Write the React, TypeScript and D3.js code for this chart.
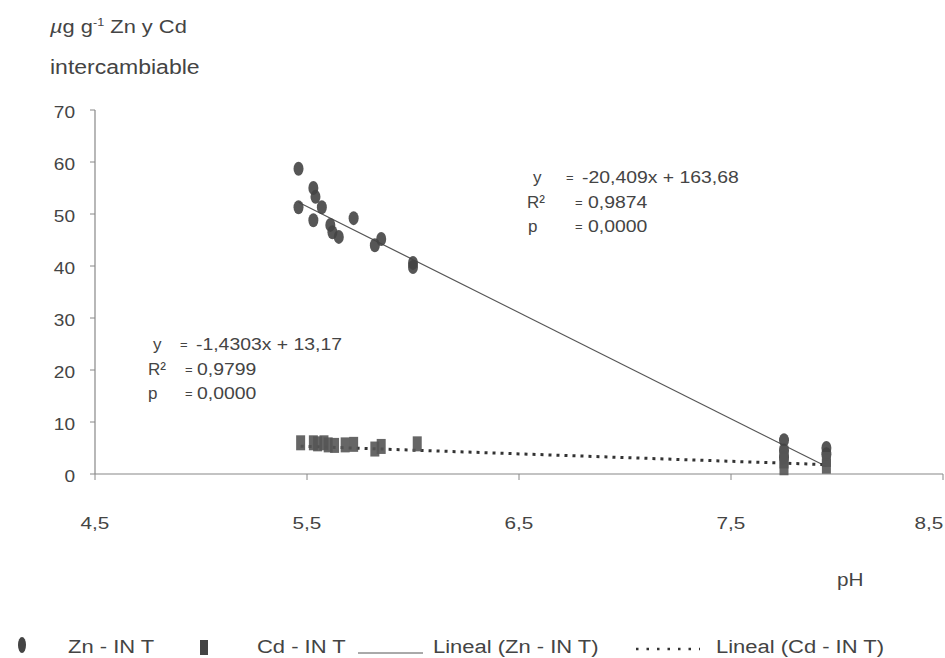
import React, { useEffect, useRef } from "react";
import * as d3 from "d3";

// pH vs exchangeable Zn / Cd
const znPH = [5.46, 5.46, 5.53, 5.54, 5.57, 5.53, 5.61, 5.62, 5.65, 5.72, 5.82, 5.85, 6.0, 6.0, 7.75, 7.75, 7.75, 7.95, 7.95];
const znVal = [58.7, 51.3, 55, 53.3, 51.3, 48.8, 47.9, 46.5, 45.6, 49.2, 44, 45.2, 40.6, 39.8, 6.5, 4.5, 3.2, 5, 3.8];
const cdPH = [5.47, 5.53, 5.55, 5.58, 5.6, 5.63, 5.68, 5.72, 5.82, 5.85, 6.02, 7.75, 7.75, 7.75, 7.95, 7.95];
const cdVal = [6, 6, 5.8, 6, 5.6, 5.5, 5.6, 5.7, 4.8, 5.3, 5.8, 4, 2.5, 1.2, 2.8, 1.5];

const xTicks = [4.5, 5.5, 6.5, 7.5, 8.5];
const yTicks = [0, 10, 20, 30, 40, 50, 60, 70];

const znFit = { slope: -20.409, icpt: 163.68, label: ["-20,409x + 163,68", "0,9874", "0,0000"] };
const cdFit = { slope: -1.4303, icpt: 13.17, label: ["-1,4303x + 13,17", "0,9799", "0,0000"] };

const legendItems = ["Zn - IN T", "Cd - IN T", "Lineal (Zn - IN T)", "Lineal (Cd - IN T)"];

const W = 945, H = 658;
const ink = "#444";
const txt = "#444";

// scanned text looks horizontally stretched
function stretch(sel: d3.Selection<any, any, any, any>, k: number) {
  sel.each(function () {
    const el = this as SVGTextElement;
    const w = el.getComputedTextLength();
    d3.select(el).attr("textLength", w * k).attr("lengthAdjust", "spacingAndGlyphs");
  });
}

export default function App() {
  const ref = useRef<SVGSVGElement>(null);

  useEffect(() => {
    const svg = d3.select(ref.current);
    svg.selectAll("*").remove();
    svg.style("font-family", "'Liberation Sans', Arial, sans-serif");

    const x = d3.scaleLinear().domain([4.5, 8.5]).range([95, 943]);
    const y = d3.scaleLinear().domain([0, 70]).range([474, 110]);

    // axes
    svg.append("line").attr("x1", x(4.5)).attr("x2", x(8.5)).attr("y1", y(0)).attr("y2", y(0))
      .attr("stroke", "#888").attr("stroke-width", 1.2);
    svg.append("line").attr("x1", x(4.5)).attr("x2", x(4.5)).attr("y1", y(0)).attr("y2", y(70))
      .attr("stroke", "#888").attr("stroke-width", 1.2);

    svg.selectAll(".xt").data(xTicks).join("line")
      .attr("x1", d => x(d)).attr("x2", d => x(d)).attr("y1", y(0)).attr("y2", y(0) + 6)
      .attr("stroke", "#888");
    const xl = svg.selectAll(".xl").data(xTicks).join("text")
      .attr("x", d => Math.min(x(d), 929)).attr("y", 529).attr("text-anchor", "middle")
      .attr("font-size", 17).attr("fill", txt)
      .text(d => d3.format(".1f")(d).replace(".", ","));
    stretch(xl, 1.22);

    svg.selectAll(".yt").data(yTicks).join("line")
      .attr("x1", x(4.5) - 5).attr("x2", x(4.5)).attr("y1", d => y(d)).attr("y2", d => y(d))
      .attr("stroke", "#888");
    const yl = svg.selectAll(".yl").data(yTicks).join("text")
      .attr("x", 75).attr("y", d => y(d) + 8).attr("text-anchor", "end")
      .attr("font-size", 17).attr("fill", txt)
      .text(d => d);
    stretch(yl, 1.12);

    // axis titles
    const t1 = svg.append("text").attr("x", 50).attr("y", 33).attr("font-size", 19).attr("fill", txt);
    t1.append("tspan").attr("font-style", "italic").text("µ");
    t1.append("tspan").text("g g");
    t1.append("tspan").attr("font-size", 11).attr("dy", -7).text("-1");
    t1.append("tspan").attr("dy", 7).text(" Zn y Cd");
    stretch(t1, 1.15);
    const t2 = svg.append("text").attr("x", 50).attr("y", 74).attr("font-size", 20).attr("fill", txt).text("intercambiable");
    stretch(t2, 1.15);
    const t3 = svg.append("text").attr("x", 837).attr("y", 586).attr("font-size", 18).attr("fill", txt).text("pH");
    stretch(t3, 1.15);

    // regression lines
    const zx = d3.extent(znPH) as [number, number];
    const cx = d3.extent(cdPH) as [number, number];
    const line = d3.line<number>().x(d => x(d));
    svg.append("path")
      .attr("d", line.y(d => y(znFit.slope * d + znFit.icpt))([zx[0], zx[1]]))
      .attr("stroke", "#555").attr("stroke-width", 1.2).attr("fill", "none");
    svg.append("path")
      .attr("d", line.y(d => y(cdFit.slope * d + cdFit.icpt))([cx[0], cx[1]]))
      .attr("stroke", "#333").attr("stroke-width", 3).attr("stroke-dasharray", "3,5").attr("fill", "none");

    // markers
    svg.selectAll(".zn").data(znPH).join("ellipse")
      .attr("cx", d => x(d)).attr("cy", (d, i) => y(znVal[i]))
      .attr("rx", 5).attr("ry", 7).attr("fill", ink).attr("opacity", 0.9);
    svg.selectAll(".cd").data(cdPH).join("rect")
      .attr("x", d => x(d) - 4.5).attr("y", (d, i) => y(cdVal[i]) - 7.5)
      .attr("width", 9).attr("height", 15).attr("fill", "#555").attr("opacity", 0.9);

    // equations
    const eq = (fit: typeof znFit, cols: number[][], base: number) => {
      const names = ["y", "R²", "p"];
      names.forEach((n, i) => {
        const yy = base + i * 24.5;
        const [nx, ex, vx] = cols[i];
        svg.append("text").attr("x", nx).attr("y", yy).attr("font-size", 17).attr("fill", txt).text(n);
        svg.append("text").attr("x", ex).attr("y", yy - 1).attr("font-size", 13).attr("fill", txt).text("=");
        const v = svg.append("text").attr("x", vx).attr("y", yy).attr("font-size", 17).attr("fill", txt).text(fit.label[i]);
        stretch(v, 1.14);
      });
    };
    eq(znFit, [[533, 566, 582], [527, 575, 588], [528, 575, 588]], 183);
    eq(cdFit, [[153, 180, 196], [148, 185, 197], [148, 185, 197]], 350);

    // legend
    const ly = 653;
    svg.append("ellipse").attr("cx", 22).attr("cy", ly - 8).attr("rx", 4).attr("ry", 8).attr("fill", ink);
    svg.append("rect").attr("x", 200).attr("y", ly - 13).attr("width", 8).attr("height", 15).attr("fill", ink);
    svg.append("line").attr("x1", 358).attr("x2", 423).attr("y1", ly).attr("y2", ly).attr("stroke", "#555");
    svg.append("line").attr("x1", 636).attr("x2", 700).attr("y1", ly - 4).attr("y2", ly - 4)
      .attr("stroke", "#333").attr("stroke-width", 2.5).attr("stroke-dasharray", "2.5,8");
    const lx = [68, 257, 433, 716];
    legendItems.forEach((s, i) => {
      const t = svg.append("text").attr("x", lx[i]).attr("y", ly).attr("font-size", 18).attr("fill", txt).text(s);
      stretch(t, 1.22);
    });
  }, []);

  return (
    <svg ref={ref} width={W} height={H}
      style={{ position: "absolute", left: 0, top: 0, background: "#fff" }} />
  );
}
